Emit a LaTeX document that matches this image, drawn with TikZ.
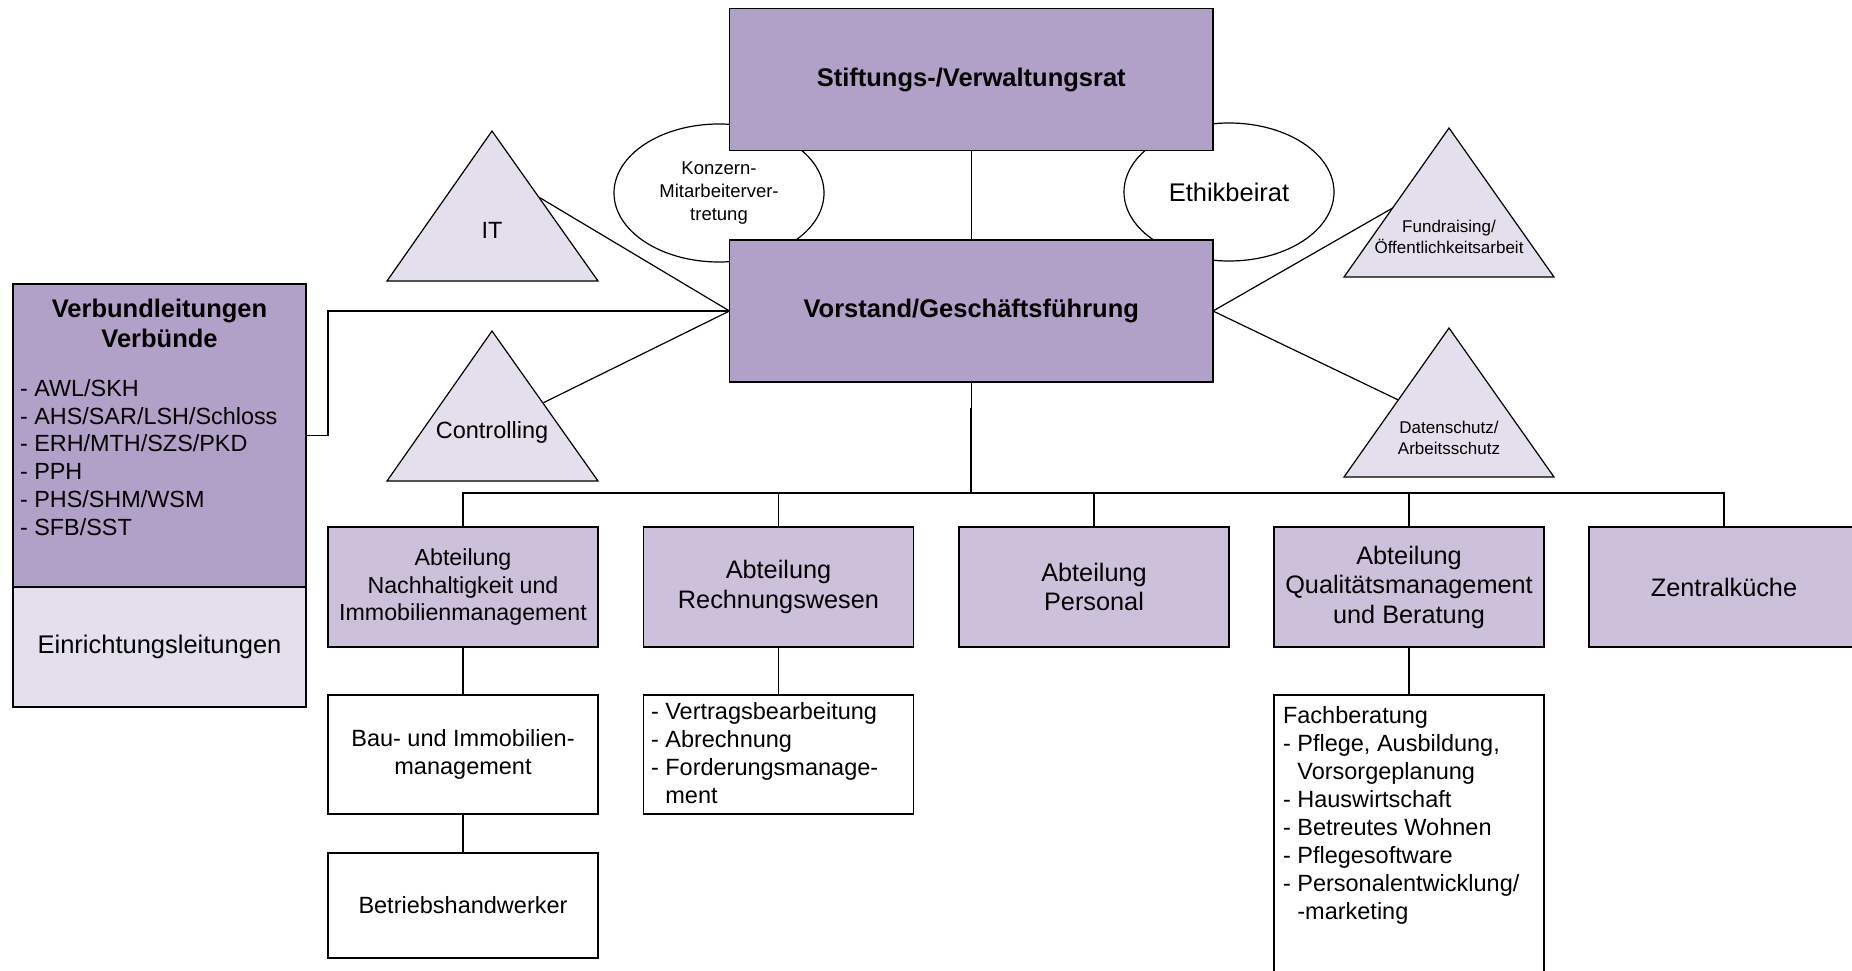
\documentclass[tikz,border=0pt]{standalone}
\usepackage{fontspec}
\setmainfont{Liberation Sans}
\usetikzlibrary{shapes.geometric,calc}
\definecolor{pdark}{HTML}{B1A0C7}
\definecolor{pmid}{HTML}{CCC0DA}
\definecolor{plight}{HTML}{E4DFEC}
\begin{document}
\begin{tikzpicture}[x=1pt,y=-1pt,
  every node/.style={inner sep=0pt, outer sep=0pt},
  bx/.style={draw, line width=1.8pt, align=center, font=\fontsize{23.5}{28}\selectfont},
  topbox/.style={bx, fill=pdark, minimum width=483.5pt, minimum height=142pt, font=\fontsize{25.5}{30}\selectfont\bfseries},
  dept/.style={bx, fill=pmid, minimum width=270pt, minimum height=120pt, font=\fontsize{25.3}{29.5}\selectfont},
  subbox/.style={bx, fill=white, minimum width=270pt},
  oval/.style={draw, ellipse, line width=1.2pt, fill=white, minimum width=210pt, minimum height=138pt, align=center},
  tri/.style={draw, line width=1.2pt, fill=plight},
  conn/.style={draw, line width=1.2pt},
  thick conn/.style={draw, line width=2.2pt},
  normal/.style={font=\fontsize{23.5}{28}\selectfont},
  small/.style={font=\fontsize{17}{21.5}\selectfont, align=center}
]
\useasboundingbox (0,0) rectangle (1852,971);
\clip (0,0) rectangle (1852,971);

% ellipses (behind boxes)
\node[oval, font=\fontsize{18.5}{23}\selectfont] (konz) at (719,193) {Konzern-\\Mitarbeiterver-\\tretung};
\node[oval, font=\fontsize{25.5}{30}\selectfont] (ethik) at (1229,192) {Ethikbeirat};

% triangle vertices
\coordinate (itA) at (492,131);  \coordinate (itL) at (387,281);  \coordinate (itR) at (598,281);
\coordinate (coA) at (492,331);  \coordinate (coL) at (387,481);  \coordinate (coR) at (598,481);
\coordinate (fuA) at (1449,128); \coordinate (fuL) at (1344,277); \coordinate (fuR) at (1554,277);
\coordinate (daA) at (1449,328); \coordinate (daL) at (1344,477); \coordinate (daR) at (1554,477);

% main boxes
\node[topbox] (stift) at (971.25,79.5) {Stiftungs-/Verwaltungsrat};
\node[topbox] (vor) at (971.25,311) {Vorstand/Geschäftsführung};

% connectors to staff units
\draw[conn] ($(itA)!0.44!(itR)$) -- (vor.west);
\draw[conn] ($(coA)!0.48!(coR)$) -- (vor.west);
\draw[conn] ($(fuA)!0.537!(fuL)$) -- (vor.east);
\draw[conn] ($(daA)!0.483!(daL)$) -- (vor.east);
\draw[conn] (stift.south) -- (vor.north);

% triangles
\draw[tri] (itA) -- (itL) -- (itR) -- cycle;
\draw[tri] (coA) -- (coL) -- (coR) -- cycle;
\draw[tri] (fuA) -- (fuL) -- (fuR) -- cycle;
\draw[tri] (daA) -- (daL) -- (daR) -- cycle;
\node[normal] (itT) at (492,230) {IT};
\node[normal] (coT) at (492,432) {Controlling};
\node[small] (fuT) at (1449,237) {Fundraising/\\Öffentlichkeitsarbeit};
\node[small] (daT) at (1449,438) {Datenschutz/\\Arbeitsschutz};

% Verbund box
\node[bx, fill=pdark, minimum width=293pt, minimum height=303pt] (vbox) at (159.5,435.5) {};
\node[bx, fill=plight, minimum width=293pt, minimum height=120pt, font=\fontsize{25.5}{30}\selectfont] (ebox) at (159.5,647) {Einrichtungsleitungen};
\node[align=center, font=\fontsize{25.5}{30}\selectfont\bfseries] (vtitle) at (159.5,323) {Verbundleitungen\\Verbünde};
\node[anchor=west, align=left, font=\fontsize{23.4}{27.8}\selectfont] (vlist) at (20,457.5) {- AWL/SKH\\- AHS/SAR/LSH/Schloss\\- ERH/MTH/SZS/PKD\\- PPH\\- PHS/SHM/WSM\\- SFB/SST};
\draw[conn] (vbox.east) -- ++(22,0) |- (vor.west);

% departments
\coordinate (bus) at (971.25,493);
\node[dept, font=\fontsize{23.2}{27.5}\selectfont] (d1) at (463,587) {Abteilung\\Nachhaltigkeit und\\Immobilienmanagement};
\node[dept] (d2) at (778.5,587) {Abteilung\\Rechnungswesen};
\node[dept] (d3) at (1094,587) {Abteilung\\Personal};
\node[dept] (d4) at (1409,587) {Abteilung\\Qualitätsmanagement\\und Beratung};
\node[dept] (d5) at (1724,587) {Zentralküche};

\draw[conn] (vor.south) -- (bus);
\draw[thick conn] (971.25,408) -- (bus);
\draw[conn] (bus) -| (d1.north);
\draw[conn] (bus) -| (d2.north);
\draw[conn] (bus) -| (d3.north);
\draw[conn] (bus) -| (d4.north);
\draw[conn] (bus) -| (d5.north);
\draw[thick conn] (d2.north |- bus) -- (d4.north |- bus);

% sub boxes
\node[subbox, minimum height=119pt] (bau) at (463,754.5) {Bau- und Immobilien-\\management};
\node[subbox, minimum height=105pt] (betr) at (463,905.5) {Betriebshandwerker};
\node[subbox, minimum height=119pt] (vert) at (778.5,754.5) {};
\node[anchor=west, align=left, normal] (vertT) at (651,753.5) {- Vertragsbearbeitung\\- Abrechnung\\- Forderungsmanage-\\\phantom{- }ment};
\node[subbox, minimum height=320pt] (fach) at (1409,855) {};
\node[anchor=west, align=left, normal] (fachT) at (1283,815) {Fachberatung\\- Pflege, Ausbildung,\\\phantom{- }Vorsorgeplanung\\- Hauswirtschaft\\- Betreutes Wohnen\\- Pflegesoftware\\- Personalentwicklung/\\\phantom{- }-marketing};

\draw[conn] (d1.south) -- (bau.north);
\draw[conn] (bau.south) -- (betr.north);
\draw[conn] (d2.south) -- (vert.north);
\draw[conn] (d4.south) -- (fach.north);
\end{tikzpicture}
\end{document}
